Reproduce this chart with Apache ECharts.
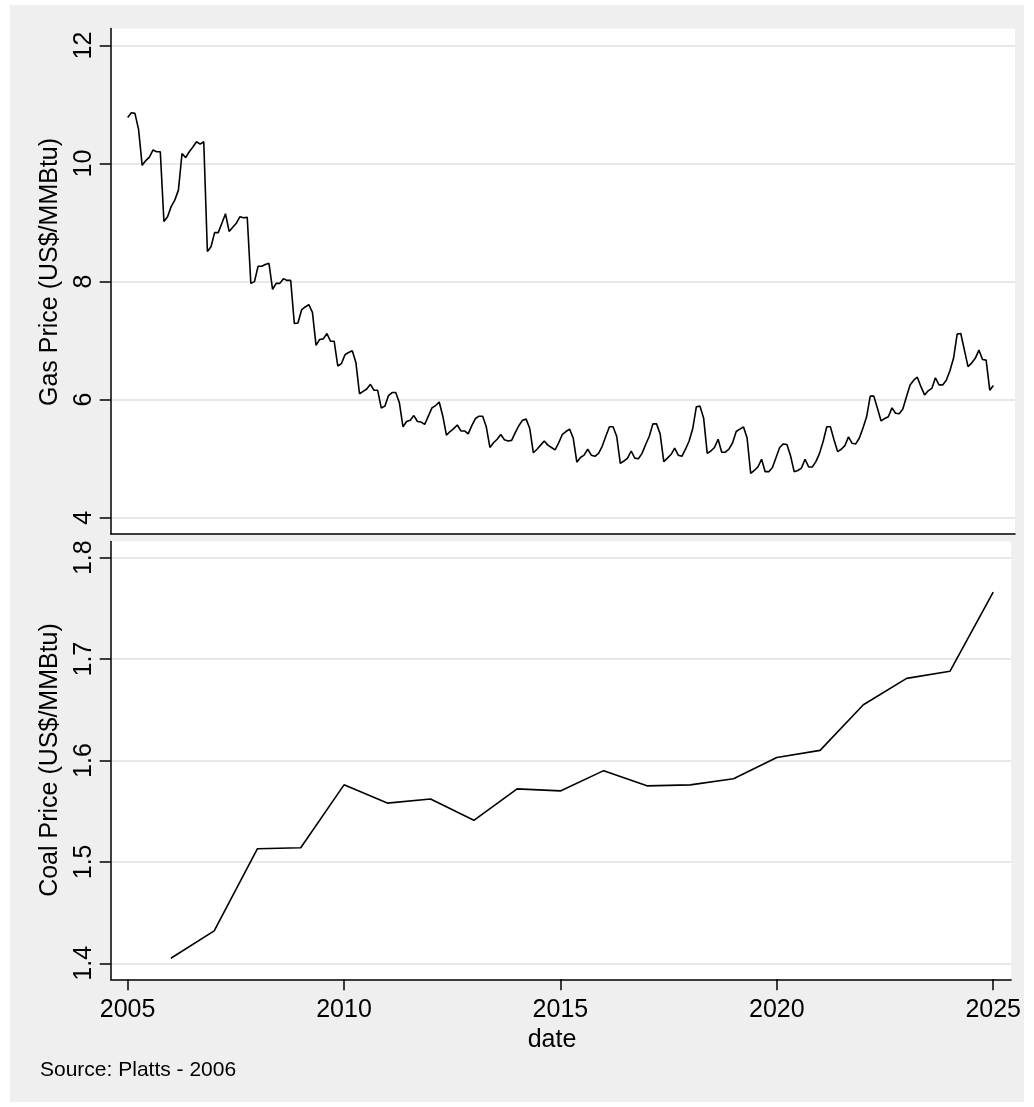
<!DOCTYPE html>
<html>
<head>
<meta charset="utf-8">
<title>Gas and coal price</title>
<script src="https://cdn.jsdelivr.net/npm/echarts@6.0.0/dist/echarts.min.js"></script>
<style>
	html, body { margin: 0; padding: 0; background: #ffffff; }
	#chart { position: absolute; left: 10px; top: 5px; width: 1014px; height: 1097px; }
</style>
</head>
<body>
<div id="chart"></div>
<script>
// monthly gas price, Jan 2005 onwards
const gasStartYear = 2005;
const gasPrice = [
	10.78, 10.86, 10.85, 10.58, 9.97, 10.05, 10.11, 10.23, 10.20, 10.20, 9.02, 9.10,
	9.27, 9.38, 9.55, 10.17, 10.10, 10.20, 10.28, 10.37, 10.33, 10.37, 8.51, 8.59,
	8.83, 8.83, 8.99, 9.15, 8.85, 8.92, 8.99, 9.10, 9.08, 9.09, 7.97, 8.00,
	8.26, 8.26, 8.29, 8.31, 7.87, 7.97, 7.97, 8.05, 8.02, 8.02, 7.29, 7.30,
	7.52, 7.57, 7.61, 7.48, 6.92, 7.02, 7.03, 7.12, 6.99, 6.99, 6.57, 6.61,
	6.76, 6.80, 6.83, 6.63, 6.10, 6.14, 6.18, 6.26, 6.16, 6.16, 5.86, 5.89,
	6.07, 6.12, 6.12, 5.95, 5.54, 5.63, 5.65, 5.73, 5.63, 5.62, 5.58, 5.72,
	5.86, 5.90, 5.96, 5.72, 5.40, 5.46, 5.51, 5.57, 5.47, 5.47, 5.42, 5.56,
	5.68, 5.72, 5.72, 5.54, 5.19, 5.27, 5.33, 5.41, 5.32, 5.30, 5.31, 5.44,
	5.56, 5.65, 5.67, 5.51, 5.10, 5.16, 5.23, 5.30, 5.23, 5.19, 5.15, 5.27,
	5.41, 5.46, 5.50, 5.35, 4.94, 5.02, 5.06, 5.16, 5.06, 5.04, 5.09, 5.21,
	5.38, 5.54, 5.54, 5.38, 4.92, 4.96, 5.01, 5.13, 5.01, 5.00, 5.09, 5.24,
	5.38, 5.59, 5.59, 5.42, 4.95, 5.01, 5.07, 5.18, 5.06, 5.04, 5.16, 5.30,
	5.51, 5.88, 5.89, 5.69, 5.09, 5.13, 5.19, 5.33, 5.11, 5.11, 5.16, 5.27,
	5.46, 5.50, 5.54, 5.35, 4.75, 4.80, 4.86, 4.99, 4.78, 4.78, 4.85, 5.02,
	5.19, 5.25, 5.24, 5.05, 4.78, 4.80, 4.84, 4.99, 4.86, 4.86, 4.95, 5.09,
	5.29, 5.54, 5.54, 5.32, 5.12, 5.16, 5.22, 5.37, 5.26, 5.25, 5.35, 5.52,
	5.71, 6.06, 6.06, 5.85, 5.64, 5.68, 5.71, 5.86, 5.77, 5.76, 5.84, 6.05,
	6.25, 6.33, 6.38, 6.22, 6.08, 6.15, 6.19, 6.37, 6.25, 6.25, 6.33, 6.49,
	6.70, 7.11, 7.12, 6.84, 6.56, 6.62, 6.70, 6.84, 6.68, 6.67, 6.16, 6.24
];

// annual coal price
const coalYears = [2006, 2007, 2008, 2009, 2010, 2011, 2012, 2013, 2014, 2015,
	2016, 2017, 2018, 2019, 2020, 2021, 2022, 2023, 2024, 2025];
const coalPrice = [1.405, 1.432, 1.513, 1.514, 1.576, 1.558, 1.562, 1.541, 1.572, 1.570,
	1.590, 1.575, 1.576, 1.582, 1.603, 1.610, 1.655, 1.681, 1.688, 1.766];

const yearTicks = [2005, 2010, 2015, 2020, 2025];
const gasTicks = [4, 6, 8, 10, 12];
const coalTicks = [1.4, 1.5, 1.6, 1.7, 1.8];

document.addEventListener('DOMContentLoaded', function() {
	const chart = echarts.init(document.getElementById('chart'));
	const font = '"Liberation Sans", Arial, Helvetica, sans-serif';
	const axisLine = { show: true, onZero: false, lineStyle: { color: '#000', width: 1.5 } };
	const tick = { show: true, length: 11, lineStyle: { color: '#000', width: 1.5 } };
	const grid = { lineStyle: { color: '#e8e8e8', width: 2 } };
	const plain = function(v) { return String(v); };

	const gasData = gasPrice.map(function(v, i) { return [gasStartYear + i / 12, v]; });
	const coalData = coalYears.map(function(y, i) { return [y, coalPrice[i]]; });

	const option = {
		animation: false,
		backgroundColor: '#efefef',
		grid: [
			{ left: 100.7, top: 23.5, width: 904.3, height: 505.2, show: true, backgroundColor: '#fff', borderWidth: 0 },
			{ left: 100.7, top: 536.5, width: 904.3, height: 437.8, show: true, backgroundColor: '#fff', borderWidth: 0 }
		],
		xAxis: [
			{
				type: 'value', gridIndex: 0, min: 2004.609, max: 2025.414,
				axisLine: axisLine, axisTick: { show: false }, axisLabel: { show: false }, splitLine: { show: false }
			},
			{
				type: 'value', gridIndex: 1, min: 2004.609, max: 2025.414,
				axisLine: axisLine,
				axisTick: Object.assign({ customValues: yearTicks }, tick),
				axisLabel: { customValues: yearTicks, formatter: plain, margin: 18, fontSize: 25, fontFamily: font, color: '#000' },
				splitLine: { show: false }
			}
		],
		yAxis: [
			{
				type: 'value', gridIndex: 0, min: 3.729, max: 12.288,
				axisLine: axisLine,
				axisTick: Object.assign({ customValues: gasTicks }, tick),
				axisLabel: { customValues: gasTicks, formatter: plain, rotate: 90, margin: 14, fontSize: 25, fontFamily: font, color: '#000' },
				splitLine: grid
			},
			{
				type: 'value', gridIndex: 1, min: 1.3842, max: 1.816,
				axisLine: axisLine,
				axisTick: Object.assign({ customValues: coalTicks }, tick),
				axisLabel: { customValues: coalTicks, formatter: plain, rotate: 90, margin: 14, fontSize: 25, fontFamily: font, color: '#000' },
				splitLine: grid
			}
		],
		graphic: [
			{ type: 'text', x: 40, y: 267, rotation: Math.PI / 2,
				style: { text: 'Gas Price (US$/MMBtu)', fill: '#000', font: '25px ' + font, align: 'center', verticalAlign: 'middle', textAlign: 'center', textVerticalAlign: 'middle' } },
			{ type: 'text', x: 40, y: 755, rotation: Math.PI / 2,
				style: { text: 'Coal Price (US$/MMBtu)', fill: '#000', font: '25px ' + font, align: 'center', verticalAlign: 'middle', textAlign: 'center', textVerticalAlign: 'middle' } },
			{ type: 'text', x: 542, y: 1035,
				style: { text: 'date', fill: '#000', font: '25px ' + font, align: 'center', verticalAlign: 'middle', textAlign: 'center', textVerticalAlign: 'middle' } },
			{ type: 'text', x: 30, y: 1065,
				style: { text: 'Source: Platts - 2006', fill: '#000', font: '21px ' + font, align: 'left', verticalAlign: 'middle', textAlign: 'left', textVerticalAlign: 'middle' } }
		],
		series: [
			{
				name: 'Gas Price', type: 'line', xAxisIndex: 0, yAxisIndex: 0,
				symbol: 'none', lineStyle: { color: '#000', width: 1.6 }, data: gasData
			},
			{
				name: 'Coal Price', type: 'line', xAxisIndex: 1, yAxisIndex: 1,
				symbol: 'none', lineStyle: { color: '#000', width: 1.6 }, data: coalData
			}
		]
	};
	chart.setOption(option);
});
</script>
</body>
</html>
